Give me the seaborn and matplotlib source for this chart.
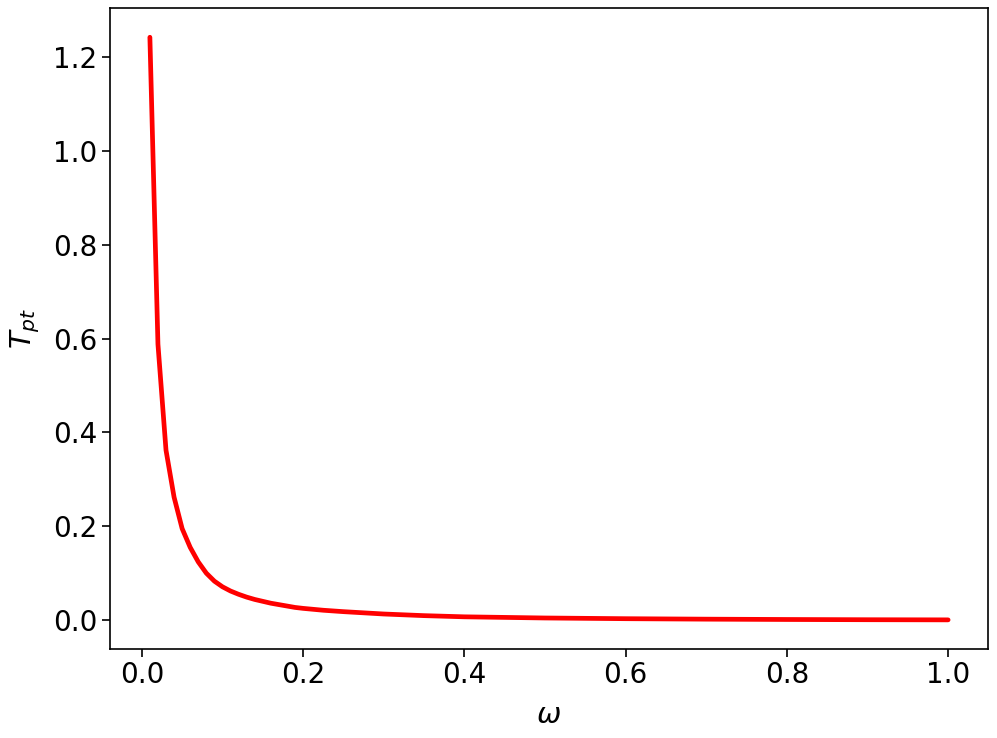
import matplotlib
matplotlib.use("Agg")
import matplotlib.pyplot as plt
import seaborn as sns
import pandas as pd

# values
omega = [0.01, 0.02, 0.03, 0.04, 0.05, 0.06, 0.07, 0.08, 0.09, 0.10,
         0.11, 0.12, 0.13, 0.14, 0.15, 0.16, 0.17, 0.18, 0.19, 0.20,
         0.225, 0.25, 0.275, 0.30, 0.35, 0.40, 0.50,
         0.60, 0.70, 0.80, 0.90, 1.00]
t_pt = [1.242, 0.588, 0.362, 0.262, 0.195, 0.155, 0.124, 0.100, 0.083, 0.071,
        0.062, 0.055, 0.049, 0.044, 0.040, 0.036, 0.033, 0.030, 0.027, 0.025,
        0.021, 0.018, 0.0155, 0.013, 0.0095, 0.007, 0.0045,
        0.003, 0.002, 0.0013, 0.0008, 0.0005]

df = pd.DataFrame({"omega": omega, "T": t_pt})

sns.set_style("ticks", {"axes.edgecolor": "black", "xtick.color": "black",
                        "ytick.color": "black", "axes.labelcolor": "black"})
plt.rcParams['font.family'] = ['DejaVu Sans']

fig = plt.figure(figsize=(9.97, 7.38), dpi=100)
ax = fig.add_axes([0.1103, 0.1206, 0.8807, 0.8684])

sns.lineplot(data=df, x="omega", y="T", color="red", linewidth=3.4, ax=ax)

ax.set_xlabel(r"$\omega$", fontsize=21, labelpad=8)
ax.set_ylabel(r"$T_{pt}$", fontsize=21, labelpad=8)
ax.set_xticks([0.0, 0.2, 0.4, 0.6, 0.8, 1.0])
ax.set_yticks([0.0, 0.2, 0.4, 0.6, 0.8, 1.0, 1.2])
ax.tick_params(labelsize=20, length=5.5, width=1.2)
for s in ax.spines.values():
    s.set_linewidth(1.2)

fig.savefig("out.png", dpi=100)
